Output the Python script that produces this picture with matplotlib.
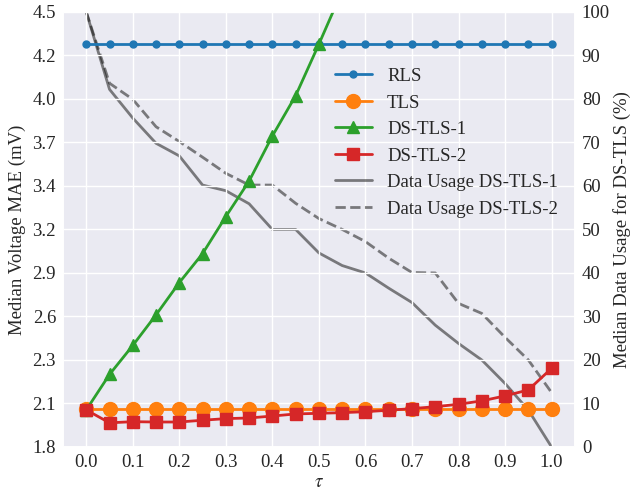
import numpy as np
import matplotlib
matplotlib.use('Agg')
import matplotlib.pyplot as plt
import seaborn as sns

# tau values (x axis)
tau = [0.0, 0.05, 0.1, 0.15, 0.2, 0.25, 0.3, 0.35, 0.4, 0.45, 0.5,
       0.55, 0.6, 0.65, 0.7, 0.75, 0.8, 0.85, 0.9, 0.95, 1.0]

# median voltage MAE (mV)
rls = [4.30] * 21
tls = [2.035] * 21
ds_tls_1 = [2.03, 2.25, 2.43, 2.62, 2.82, 3.00, 3.23, 3.45, 3.73, 3.98, 4.30,
            4.63, 4.98, 5.35, 5.73, 6.13, 6.55, 6.98, 7.43, 7.90, 8.40]
ds_tls_2 = [2.03, 1.95, 1.957, 1.955, 1.955, 1.966, 1.976, 1.98, 1.992, 2.005, 2.009,
            2.013, 2.019, 2.028, 2.038, 2.05, 2.065, 2.086, 2.117, 2.154, 2.288]

# median data usage (%)
usage_1 = [100.0, 82.2, 75.6, 69.8, 66.9, 60.2, 58.9, 55.9, 50.0, 50.0, 44.6,
           41.7, 40.0, 36.5, 33.2, 28.0, 23.8, 20.0, 14.6, 8.5, 0.0]
usage_2 = [100.0, 83.6, 79.9, 73.6, 70.2, 66.6, 62.9, 60.2, 60.2, 56.0, 52.5,
           50.0, 47.2, 43.4, 40.1, 40.0, 33.0, 30.7, 25.2, 20.0, 12.5]

x_ticks = [0.0, 0.1, 0.2, 0.3, 0.4, 0.5, 0.6, 0.7, 0.8, 0.9, 1.0]
y_ticks_left = np.linspace(1.8, 4.5, 11)
y_labels_left = ['1.8', '2.1', '2.3', '2.6', '2.9', '3.2', '3.4', '3.7', '4.0', '4.2', '4.5']
y_ticks_right = [0, 10, 20, 30, 40, 50, 60, 70, 80, 90, 100]

sns.set_theme(style='darkgrid')
plt.rcParams['font.family'] = ['Liberation Serif', 'DejaVu Serif']
plt.rcParams['mathtext.fontset'] = 'stix'

fig, ax = plt.subplots(figsize=(6.31, 4.95), dpi=100)
fig.subplots_adjust(left=0.0998, right=0.911, bottom=0.097, top=0.976)
ax2 = ax.twinx()

fs = 13.5
l1, = ax.plot(tau, rls, color='tab:blue', marker='o', markersize=5, lw=2, label='RLS')
l2, = ax.plot(tau, tls, color='tab:orange', marker='o', markersize=10, lw=2, label='TLS')
l3, = ax.plot(tau, ds_tls_1, color='tab:green', marker='^', markersize=9, lw=2, label='DS-TLS-1')
l4, = ax.plot(tau, ds_tls_2, color='tab:red', marker='s', markersize=9, lw=2, label='DS-TLS-2')

l5, = ax2.plot(tau, usage_1, color='k', alpha=0.55, lw=2, label='Data Usage DS-TLS-1')
l6, = ax2.plot(tau, usage_2, color='k', alpha=0.55, lw=2, ls='--', label='Data Usage DS-TLS-2')

ax.set_ylim(1.8, 4.5)
ax.set_yticks(y_ticks_left)
ax.set_yticklabels(y_labels_left)
ax.set_xticks(x_ticks)
ax.set_xticklabels([f'{t:.1f}' for t in x_ticks])
ax2.set_ylim(0, 100)
ax2.set_yticks(y_ticks_right)
ax2.grid(False)

ax.tick_params(labelsize=fs, length=0, pad=5)
ax2.tick_params(labelsize=fs, length=0, pad=5)
ax.set_xlabel(r'$\tau$', fontsize=fs, labelpad=2)
ax.set_ylabel('Median Voltage MAE (mV)', fontsize=fs, labelpad=5)
ax2.set_ylabel('Median Data Usage for DS-TLS (%)', fontsize=fs, labelpad=2)

# main axes on top, background drawn by the twin
ax.set_zorder(ax2.get_zorder() + 1)
ax.patch.set_visible(False)
ax2.patch.set_visible(True)
ax2.set_facecolor('#EAEAF2')

handles = [l1, l2, l3, l4, l5, l6]
ax.legend(handles, [h.get_label() for h in handles], loc='upper right',
          bbox_to_anchor=(1.0, 0.91), frameon=False, fontsize=fs, labelspacing=0.5)

plt.savefig('out.png', dpi=100)
